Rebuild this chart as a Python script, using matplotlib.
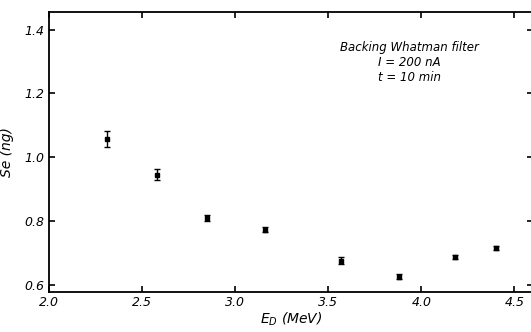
import matplotlib
matplotlib.use("Agg")
import matplotlib.pyplot as plt

# Data
energy = [2.31, 2.58, 2.85, 3.16, 3.57, 3.88, 4.18, 4.40]
se_ng = [1.056, 0.946, 0.810, 0.774, 0.677, 0.626, 0.688, 0.716]
se_err = [0.025, 0.018, 0.008, 0.008, 0.010, 0.008, 0.006, 0.007]
xticks = [2.0, 2.5, 3.0, 3.5, 4.0, 4.5]
yticks = [0.6, 0.8, 1.0, 1.2, 1.4]

fig = plt.figure(figsize=(5.31, 3.32), dpi=100)
ax = fig.add_axes([0.092, 0.12, 0.912, 0.845])

ax.errorbar(energy, se_ng, yerr=se_err, fmt="s", color="black", ms=3,
            elinewidth=1.0, capsize=2, capthick=1.0)

ax.set_xlim(2.0, 4.60)
ax.set_ylim(0.578, 1.456)
ax.set_xticks(xticks)
ax.set_yticks(yticks)
ax.set_xticklabels([f"{v:.1f}" for v in xticks], fontstyle="italic", fontsize=9)
ax.set_yticklabels([f"{v:.1f}" for v in yticks], fontstyle="italic", fontsize=9)
ax.tick_params(direction="in", top=True, right=True, length=4, width=1.2, pad=3)
for s in ax.spines.values():
    s.set_linewidth(1.3)

ax.set_xlabel("$E_D$ (MeV)", fontstyle="italic", fontsize=10, labelpad=1)
ax.set_ylabel("Se (ng)", fontstyle="italic", fontsize=10, labelpad=8)

ax.text(0.745, 0.82, "Backing Whatman filter\nI = 200 nA\nt = 10 min",
        transform=ax.transAxes, ha="center", va="center", fontsize=8.5,
        fontstyle="italic", linespacing=1.2)

fig.savefig("out.png", dpi=100)
